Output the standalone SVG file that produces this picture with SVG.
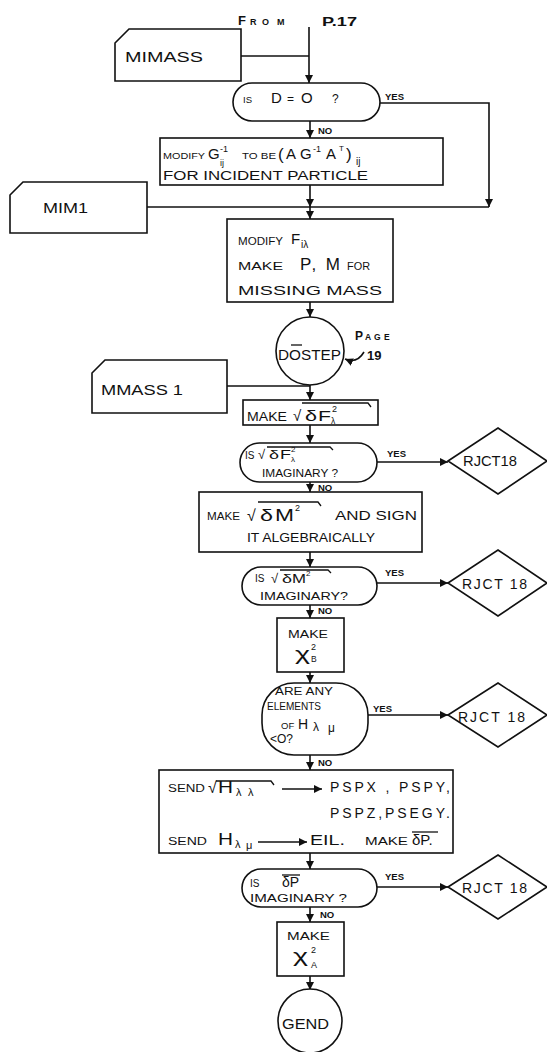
<svg xmlns="http://www.w3.org/2000/svg" width="547" height="1052" viewBox="0 0 547 1052">
<defs>
<marker id="ah" markerUnits="userSpaceOnUse" markerWidth="9" markerHeight="8" refX="8" refY="4" orient="auto"><path d="M0,0 L8,4 L0,8 z" fill="#111"/></marker>
<style>
text{font-family:"Liberation Sans",Arial,sans-serif;fill:#111}
.sh{fill:#fff;stroke:#111;stroke-width:1.6}
.ln{fill:none;stroke:#111;stroke-width:1.6}
.vn{fill:none;stroke:#111;stroke-width:1.3}
.lb{font-size:9.5px;font-weight:bold}
.rj{font-size:14px}
</style>
</defs>
<rect width="547" height="1052" fill="#fff"/>
<g id="connectors">
<path class="ln" d="M309,27 V83" marker-end="url(#ah)"/>
<path class="ln" d="M241,56 H309"/>
<path class="ln" d="M380,103 H489 V207" marker-end="url(#ah)"/>
<path class="ln" d="M310,121 V138" marker-end="url(#ah)"/>
<path class="ln" d="M147,207 H489"/>
<path class="ln" d="M310,185 V207" marker-end="url(#ah)"/>
<path class="ln" d="M310,207 V219" marker-end="url(#ah)"/>
<path class="ln" d="M310,302 V317" marker-end="url(#ah)"/>
<path class="ln" d="M364,352 Q357,364 345,359" marker-end="url(#ah)"/>
<path class="ln" d="M227,386 H310"/>
<path class="ln" d="M310,385 V400" marker-end="url(#ah)"/>
<path class="ln" d="M310,425 V443" marker-end="url(#ah)"/>
<path class="ln" d="M377,462 H448" marker-end="url(#ah)"/>
<path class="ln" d="M310,482 V492" marker-end="url(#ah)"/>
<path class="ln" d="M310,552 V567" marker-end="url(#ah)"/>
<path class="ln" d="M377,583 H448" marker-end="url(#ah)"/>
<path class="ln" d="M310,605 V618" marker-end="url(#ah)"/>
<path class="ln" d="M310,672 V683" marker-end="url(#ah)"/>
<path class="ln" d="M368,715 H448" marker-end="url(#ah)"/>
<path class="ln" d="M310,755 V770" marker-end="url(#ah)"/>
<path class="ln" d="M310,853 V869" marker-end="url(#ah)"/>
<path class="ln" d="M377,887 H448" marker-end="url(#ah)"/>
<path class="ln" d="M310,907 V922" marker-end="url(#ah)"/>
<path class="ln" d="M310,976 V990" marker-end="url(#ah)"/>
<text class="lb" x="385" y="100">YES</text>
<text class="lb" x="318" y="134">NO</text>
<text class="lb" x="387" y="457">YES</text>
<text class="lb" x="318" y="491">NO</text>
<text class="lb" x="385" y="576">YES</text>
<text class="lb" x="318" y="614">NO</text>
<text class="lb" x="373" y="712">YES</text>
<text class="lb" x="318" y="766">NO</text>
<text class="lb" x="385" y="880">YES</text>
<text class="lb" x="320" y="918">NO</text>
</g>
<g id="from">
<text x="238" y="25" font-weight="bold"><tspan font-size="13">F</tspan><tspan x="250" font-size="9">R</tspan><tspan x="262" font-size="9">O</tspan><tspan x="277" font-size="9">M</tspan></text>
<text x="322" y="26" font-size="13" font-weight="bold" textLength="35" lengthAdjust="spacingAndGlyphs">P.17</text>
</g>
<g id="mimass">
<path class="sh" d="M115,43 L129,29 H241 V81 H115 Z"/>
<text x="125" y="62" font-size="14" textLength="78" lengthAdjust="spacingAndGlyphs">MIMASS</text>
</g>
<g id="isD0">
<rect class="sh" x="233" y="83" width="147" height="38" rx="19"/>
<text y="103"><tspan x="243" font-size="9.5">IS</tspan><tspan x="271" font-size="15">D</tspan><tspan x="287" font-size="12">=</tspan><tspan x="301" font-size="15">O</tspan><tspan x="332" font-size="12">?</tspan></text>
</g>
<g id="modifyG">
<rect class="sh" x="160" y="138" width="283" height="47"/>
<text x="163" y="159" font-size="9.5" textLength="42" lengthAdjust="spacingAndGlyphs">MODIFY</text>
<text x="208" y="159" font-size="15">G</text>
<text x="220" y="152" font-size="9">-1</text>
<text x="220" y="166" font-size="9">ij</text>
<text x="242" y="159" font-size="9" textLength="34" lengthAdjust="spacingAndGlyphs">TO BE</text>
<text x="278" y="160" font-size="17">(</text>
<text x="286" y="159" font-size="15">A</text>
<text x="300" y="159" font-size="15">G</text>
<text x="313" y="152" font-size="9">-1</text>
<text x="326" y="159" font-size="15">A</text>
<text x="339" y="151" font-size="8">T</text>
<text x="346" y="160" font-size="17">)</text>
<text x="356" y="165" font-size="10">ij</text>
<text x="163" y="180" font-size="12" textLength="205" lengthAdjust="spacingAndGlyphs">FOR INCIDENT PARTICLE</text>
</g>
<g id="mim1">
<path class="sh" d="M10,195 L23,182 H147 V233 H10 Z"/>
<text x="43" y="213" font-size="14" textLength="45" lengthAdjust="spacingAndGlyphs">MIM1</text>
</g>
<g id="modifyF">
<rect class="sh" x="227" y="219" width="166" height="83"/>
<text x="238" y="245" font-size="10" textLength="45" lengthAdjust="spacingAndGlyphs">MODIFY</text>
<text x="291" y="244" font-size="15">F</text>
<text x="301" y="248" font-size="10">iλ</text>
<text x="238" y="270" font-size="10" textLength="45" lengthAdjust="spacingAndGlyphs">MAKE</text>
<text x="300" y="270" font-size="17" textLength="40" lengthAdjust="spacing">P, M</text>
<text x="347" y="270" font-size="10" textLength="23" lengthAdjust="spacingAndGlyphs">FOR</text>
<text x="238" y="295" font-size="12.5" textLength="144" lengthAdjust="spacingAndGlyphs">MISSING MASS</text>
</g>
<g id="dostep">
<circle class="sh" cx="310" cy="351" r="34"/>
<text x="278" y="360" font-size="14" textLength="63" lengthAdjust="spacingAndGlyphs">DOSTEP</text>
<path class="vn" d="M291,345 H302"/>
<text x="355" y="340" font-weight="bold"><tspan font-size="12">P</tspan><tspan x="365" font-size="8.5">A</tspan><tspan x="374" font-size="8.5">G</tspan><tspan x="384" font-size="8.5">E</tspan></text>
<text x="367" y="360" font-size="13" font-weight="bold">19</text>
</g>
<g id="mmass1">
<path class="sh" d="M92,373 L105,360 H227 V413 H92 Z"/>
<text x="101" y="395" font-size="15" textLength="82" lengthAdjust="spacingAndGlyphs">MMASS 1</text>
</g>
<g id="makeSqrtF">
<rect class="sh" x="243" y="400" width="135" height="25"/>
<text x="247" y="421" font-size="12" textLength="40" lengthAdjust="spacingAndGlyphs">MAKE</text>
<text x="293" y="421" font-size="15">√</text>
<text x="305" y="421" font-size="15" textLength="12" lengthAdjust="spacingAndGlyphs">δ</text>
<text x="318" y="421" font-size="15" textLength="13" lengthAdjust="spacingAndGlyphs">F</text>
<text x="332" y="412" font-size="9">2</text>
<text x="331" y="424" font-size="8.5">λ</text>
<path class="vn" d="M302,403 H368 L371,407"/>
</g>
<g id="isSqrtF">
<rect class="sh" x="240" y="443" width="137" height="39" rx="19.5"/>
<text x="245" y="459" font-size="10">IS</text>
<text x="258" y="459" font-size="13">√</text>
<text x="269" y="459" font-size="13" textLength="10" lengthAdjust="spacingAndGlyphs">δ</text>
<text x="280" y="459" font-size="13" textLength="11" lengthAdjust="spacingAndGlyphs">F</text>
<text x="291" y="452" font-size="8">2</text>
<text x="291" y="462" font-size="8">λ</text>
<path class="vn" d="M267,447 H330 L333,450"/>
<text x="262" y="477" font-size="10" textLength="76" lengthAdjust="spacingAndGlyphs">IMAGINARY ?</text>
</g>
<g id="rjct1">
<path class="sh" d="M448,461 L498,428 L547,461 L498,494 Z"/>
<text class="rj" x="463" y="466" textLength="54" lengthAdjust="spacingAndGlyphs">RJCT18</text>
</g>
<g id="makeSqrtM">
<rect class="sh" x="199" y="492" width="223" height="60"/>
<text x="207" y="520" font-size="10.5" textLength="33" lengthAdjust="spacingAndGlyphs">MAKE</text>
<text x="247" y="521" font-size="16">√</text>
<text x="260" y="521" font-size="16" textLength="13" lengthAdjust="spacingAndGlyphs">δ</text>
<text x="275" y="521" font-size="17" textLength="19" lengthAdjust="spacingAndGlyphs">M</text>
<text x="295" y="511" font-size="9">2</text>
<path class="vn" d="M258,502 H318 L321,506"/>
<text x="335" y="520" font-size="12" textLength="82" lengthAdjust="spacingAndGlyphs">AND SIGN</text>
<text x="247" y="542" font-size="12" textLength="128" lengthAdjust="spacingAndGlyphs">IT ALGEBRAICALLY</text>
</g>
<g id="isSqrtM">
<rect class="sh" x="242" y="567" width="135" height="38" rx="19"/>
<text x="255" y="582" font-size="10">IS</text>
<text x="271" y="583" font-size="13">√</text>
<text x="282" y="583" font-size="13" textLength="10" lengthAdjust="spacingAndGlyphs">δ</text>
<text x="292" y="583" font-size="13" textLength="14" lengthAdjust="spacingAndGlyphs">M</text>
<text x="306" y="576" font-size="8">2</text>
<path class="vn" d="M280,570 H328 L331,573"/>
<text x="260" y="600" font-size="11" textLength="88" lengthAdjust="spacingAndGlyphs">IMAGINARY?</text>
</g>
<g id="rjct2">
<path class="sh" d="M448,583 L498,550 L547,583 L498,616 Z"/>
<text class="rj" x="462" y="589" textLength="65" lengthAdjust="spacing">RJCT 18</text>
</g>
<g id="makeChiB">
<rect class="sh" x="277" y="618" width="67" height="54"/>
<text x="288" y="638" font-size="11" textLength="40" lengthAdjust="spacingAndGlyphs">MAKE</text>
<text x="295" y="660" font-size="18" textLength="15" lengthAdjust="spacingAndGlyphs">χ</text>
<text x="311" y="650" font-size="9">2</text>
<text x="311" y="662" font-size="8.5">B</text>
</g>
<g id="areAny">
<rect class="sh" x="262" y="683" width="106" height="72" rx="32"/>
<text x="275" y="695" font-size="11" textLength="58" lengthAdjust="spacingAndGlyphs">ARE ANY</text>
<text x="267" y="710" font-size="10.5" textLength="54" lengthAdjust="spacingAndGlyphs">ELEMENTS</text>
<text x="281" y="729" font-size="9.5">OF</text>
<text x="298" y="729" font-size="14">H</text>
<text x="313" y="731" font-size="12">λ</text>
<text x="328" y="732" font-size="12">μ</text>
<text x="270" y="743" font-size="12">&lt;O?</text>
</g>
<g id="rjct3">
<path class="sh" d="M448,715 L498,683 L547,715 L498,747 Z"/>
<text class="rj" x="458" y="722" textLength="67" lengthAdjust="spacing">RJCT 18</text>
</g>
<g id="send">
<rect class="sh" x="159" y="770" width="294" height="83"/>
<text x="168" y="792" font-size="10" textLength="37" lengthAdjust="spacingAndGlyphs">SEND</text>
<text x="208" y="793" font-size="16">√</text>
<text x="218" y="793" font-size="17" textLength="15" lengthAdjust="spacingAndGlyphs">H</text>
<text x="236" y="796" font-size="11">λ</text>
<text x="248" y="796" font-size="11">λ</text>
<path class="vn" d="M216,781 H271 L274,785"/>
<path class="vn" d="M282,789 H322" marker-end="url(#ah)"/>
<text x="330" y="792" font-size="14" textLength="120" lengthAdjust="spacing">PSPX , PSPY,</text>
<text x="330" y="818" font-size="14" textLength="120" lengthAdjust="spacing">PSPZ,PSEGY.</text>
<text x="168" y="845" font-size="10" textLength="39" lengthAdjust="spacingAndGlyphs">SEND</text>
<text x="218" y="845" font-size="17" textLength="15" lengthAdjust="spacingAndGlyphs">H</text>
<text x="235" y="848" font-size="11">λ</text>
<text x="246" y="849" font-size="11">μ</text>
<path class="vn" d="M258,842 H307" marker-end="url(#ah)"/>
<text x="310" y="845" font-size="15" textLength="35" lengthAdjust="spacingAndGlyphs">EIL.</text>
<text x="365" y="845" font-size="10.5" textLength="43" lengthAdjust="spacingAndGlyphs">MAKE</text>
<text x="412" y="845" font-size="15">δP.</text>
<path class="vn" d="M412,832 H438"/>
</g>
<g id="isDeltaP">
<rect class="sh" x="242" y="869" width="135" height="38" rx="19"/>
<text x="250" y="887" font-size="10">IS</text>
<text x="282" y="887" font-size="14">δP</text>
<path class="vn" d="M282,875 H300"/>
<text x="250" y="902" font-size="10.5" textLength="97" lengthAdjust="spacingAndGlyphs">IMAGINARY ?</text>
</g>
<g id="rjct4">
<path class="sh" d="M448,887 L498,855 L547,887 L498,919 Z"/>
<text class="rj" x="462" y="893" textLength="65" lengthAdjust="spacing">RJCT 18</text>
</g>
<g id="makeChiA">
<rect class="sh" x="277" y="922" width="67" height="54"/>
<text x="287" y="940" font-size="11" textLength="43" lengthAdjust="spacingAndGlyphs">MAKE</text>
<text x="293" y="962" font-size="18" textLength="15" lengthAdjust="spacingAndGlyphs">χ</text>
<text x="311" y="953" font-size="9">2</text>
<text x="311" y="968" font-size="9">A</text>
</g>
<g id="gend">
<circle class="sh" cx="310" cy="1021" r="32"/>
<text x="282" y="1029" font-size="14" textLength="47" lengthAdjust="spacingAndGlyphs">GEND</text>
</g>
</svg>
